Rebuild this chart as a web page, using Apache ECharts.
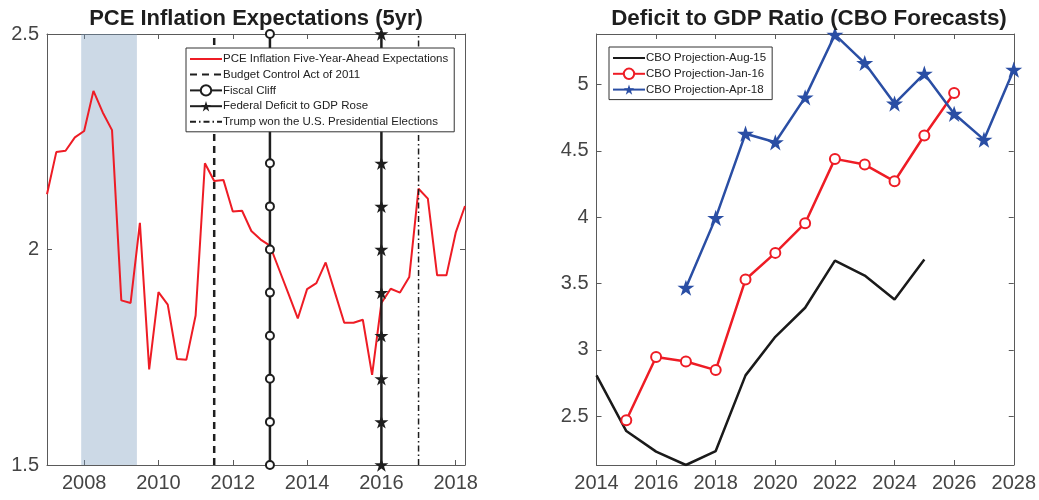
<!DOCTYPE html>
<html><head><meta charset="utf-8">
<script src="https://cdn.jsdelivr.net/npm/echarts@6/dist/echarts.min.js"></script>
<style>html,body{margin:0;padding:0;background:#fff}#c{width:1039px;height:500px}</style>
</head><body><div id="c"></div>
<script>
// ---- Left panel data ----
const pceDates = [2007,2007.25,2007.5,2007.75,2008,2008.25,2008.5,2008.75,2009,2009.25,2009.5,2009.75,
  2010,2010.25,2010.5,2010.75,2011,2011.25,2011.5,2011.75,2012,2012.25,2012.5,2012.75,
  2013,2013.25,2013.5,2013.75,2014,2014.25,2014.5,2014.75,2015,2015.25,2015.5,2015.75,
  2016,2016.25,2016.5,2016.75,2017,2017.25,2017.5,2017.75,2018,2018.25];
const pceValues = [2.128,2.226,2.229,2.26,2.275,2.368,2.318,2.277,1.882,1.876,2.062,1.722,
  1.901,1.872,1.746,1.744,1.847,2.2,2.159,2.161,2.088,2.09,2.043,2.023,
  2.009,1.953,1.897,1.84,1.908,1.922,1.97,1.90,1.83,1.83,1.837,1.709,
  1.876,1.909,1.90,1.936,2.141,2.118,1.94,1.94,2.039,2.101];
const recessionRange = [2007.92, 2009.42];
const budgetControlYear = 2011.5;
const fiscalCliffYear = 2013;
const deficitRoseYear = 2016;
const trumpYear = 2017;
const eventLevels = [1.5,1.6,1.7,1.8,1.9,2.0,2.1,2.2,2.3,2.4,2.5];
const leftXTicks = [2008,2010,2012,2014,2016,2018];
const leftYTicks = [1.5,2,2.5];
const leftXRange = [2007, 2018.25];
const leftYRange = [1.5, 2.5];

// ---- Right panel data ----
const aug15Years = [2014,2015,2016,2017,2018,2019,2020,2021,2022,2023,2024,2025];
const aug15Values = [2.807,2.387,2.232,2.131,2.236,2.807,3.098,3.317,3.673,3.56,3.38,3.681];
const jan16Years = [2015,2016,2017,2018,2019,2020,2021,2022,2023,2024,2025,2026];
const jan16Values = [2.468,2.945,2.912,2.847,3.53,3.731,3.955,4.44,4.397,4.271,4.616,4.937];
const apr18Years = [2017,2018,2019,2020,2021,2022,2023,2024,2025,2026,2027,2028];
const apr18Values = [3.468,3.995,4.63,4.565,4.904,5.377,5.163,4.857,5.083,4.78,4.585,5.113];
const rightXTicks = [2014,2016,2018,2020,2022,2024,2026,2028];
const rightYTicks = [2.5,3,3.5,4,4.5,5];
const rightXRange = [2014, 2028];
const rightYRange = [2.131, 5.382];

const FONT = '"Liberation Sans", Arial, Helvetica, sans-serif';
const AX = '#5a5a5a';
const LBL = '#444';
const STAR = 'path://M12,0 L14.9,8.6 L24,8.6 L16.6,14 L19.4,22.8 L12,17.4 L4.6,22.8 L7.4,14 L0,8.6 L9.1,8.6 Z';
const zip = (xs, ys) => xs.map((x, i) => [x, ys[i]]);
const vline = (x) => eventLevels.map(v => [x, v]);

function ax(grid, range, ticks, pos, labels) {
  return {type:'value', gridIndex:grid, min:range[0], max:range[1], position:pos,
    axisLine:{show:true, onZero:false, lineStyle:{color:AX, width:1}},
    axisTick:{show:true, inside:true, length:5, customValues:ticks, lineStyle:{color:AX}},
    axisLabel:{show:labels, customValues:ticks, color:LBL, fontSize:20, fontFamily:FONT, margin:8,
      formatter:v=>String(v)},
    splitLine:{show:false}};
}
const lineOnly = {opacity:0};
const legendBase = {orient:'vertical', itemGap:3.6, itemWidth:32, itemHeight:13, z:20,
  padding:[5,6,4,3], borderColor:'#333', borderWidth:1, backgroundColor:'#fff',
  textStyle:{fontSize:11.5, color:'#222', fontFamily:FONT, padding:[0,0,0,-4]}};

const chart = echarts.init(document.getElementById('c'), null, {renderer:'canvas'});
chart.setOption({
  animation:false,
  backgroundColor:'#fff',
  title:[
    {text:'PCE Inflation Expectations (5yr)', left:251, top:3, textAlign:'center',
     textStyle:{fontSize:22, fontWeight:'bold', color:'#1e1e1e', fontFamily:FONT}},
    {text:'Deficit to GDP Ratio (CBO Forecasts)', left:804, top:3, textAlign:'center',
     textStyle:{fontSize:22.4, fontWeight:'bold', color:'#1e1e1e', fontFamily:FONT}}
  ],
  grid:[
    {left:47, top:34, width:418, height:431},
    {left:596.5, top:34, width:418.5, height:431}
  ],
  xAxis:[
    ax(0, leftXRange, leftXTicks, 'bottom', true),
    ax(0, leftXRange, leftXTicks, 'top', false),
    ax(1, rightXRange, rightXTicks, 'bottom', true),
    ax(1, rightXRange, rightXTicks, 'top', false)
  ],
  yAxis:[
    ax(0, leftYRange, leftYTicks, 'left', true),
    ax(0, leftYRange, leftYTicks, 'right', false),
    ax(1, rightYRange, rightYTicks, 'left', true),
    ax(1, rightYRange, rightYTicks, 'right', false)
  ],
  legend:[
    Object.assign({}, legendBase, {left:186, top:48,
     data:[{name:'PCE Inflation Five-Year-Ahead Expectations', itemStyle:lineOnly},
           {name:'Budget Control Act of 2011', itemStyle:lineOnly},
           'Fiscal Cliff', 'Federal Deficit to GDP Rose',
           {name:'Trump won the U.S. Presidential Elections', itemStyle:lineOnly}]}),
    Object.assign({}, legendBase, {left:609, top:47,
     data:[{name:'CBO Projection-Aug-15', itemStyle:lineOnly},'CBO Projection-Jan-16','CBO Projection-Apr-18']})
  ],
  series:[
    {name:'PCE Inflation Five-Year-Ahead Expectations', type:'line', xAxisIndex:0, yAxisIndex:0,
     data:zip(pceDates, pceValues), showSymbol:false, symbol:'none', z:2,
     lineStyle:{color:'#ee1c25', width:2}, itemStyle:{color:'#ee1c25'}},
    {name:'recession', type:'line', xAxisIndex:0, yAxisIndex:0, data:[], z:3,
     markArea:{silent:true, itemStyle:{color:'rgba(120,155,190,0.38)'},
       data:[[{xAxis:recessionRange[0]},{xAxis:recessionRange[1]}]]}},
    {name:'Budget Control Act of 2011', type:'line', xAxisIndex:0, yAxisIndex:0,
     data:[[budgetControlYear, leftYRange[0]],[budgetControlYear, leftYRange[1]]], symbol:'none', z:4,
     lineStyle:{color:'#1e1e1e', width:2.5, type:[7,5]}, itemStyle:{color:'#1e1e1e'}},
    {name:'Fiscal Cliff', type:'line', xAxisIndex:0, yAxisIndex:0,
     data:vline(fiscalCliffYear), symbol:'emptyCircle', symbolSize:8, z:4,
     lineStyle:{color:'#1e1e1e', width:2.5}, itemStyle:{color:'#1e1e1e', borderWidth:2, borderColor:'#1e1e1e'}},
    {name:'Federal Deficit to GDP Rose', type:'line', xAxisIndex:0, yAxisIndex:0,
     data:vline(deficitRoseYear), symbol:STAR, symbolSize:14, symbolKeepAspect:true, z:4,
     lineStyle:{color:'#1e1e1e', width:2.5}, itemStyle:{color:'#1e1e1e'}},
    {name:'Trump won the U.S. Presidential Elections', type:'line', xAxisIndex:0, yAxisIndex:0,
     data:[[trumpYear, leftYRange[0]],[trumpYear, leftYRange[1]]], symbol:'none', z:4,
     lineStyle:{color:'#1e1e1e', width:1.5, type:[6,3,1.5,3]}, itemStyle:{color:'#1e1e1e'}},

    {name:'CBO Projection-Aug-15', type:'line', xAxisIndex:2, yAxisIndex:2,
     data:zip(aug15Years, aug15Values), symbol:'none',
     lineStyle:{color:'#1a1a1a', width:2.5}, itemStyle:{color:'#1a1a1a'}},
    {name:'CBO Projection-Jan-16', type:'line', xAxisIndex:2, yAxisIndex:2,
     data:zip(jan16Years, jan16Values), symbol:'emptyCircle', symbolSize:10,
     lineStyle:{color:'#ee1c25', width:2.5}, itemStyle:{color:'#ee1c25', borderWidth:2.2, borderColor:'#ee1c25'}},
    {name:'CBO Projection-Apr-18', type:'line', xAxisIndex:2, yAxisIndex:2,
     data:zip(apr18Years, apr18Values), symbol:STAR, symbolSize:17, symbolKeepAspect:true,
     lineStyle:{color:'#2a4ea4', width:2.5}, itemStyle:{color:'#2a4ea4'}}
  ]
});
</script></body></html>
